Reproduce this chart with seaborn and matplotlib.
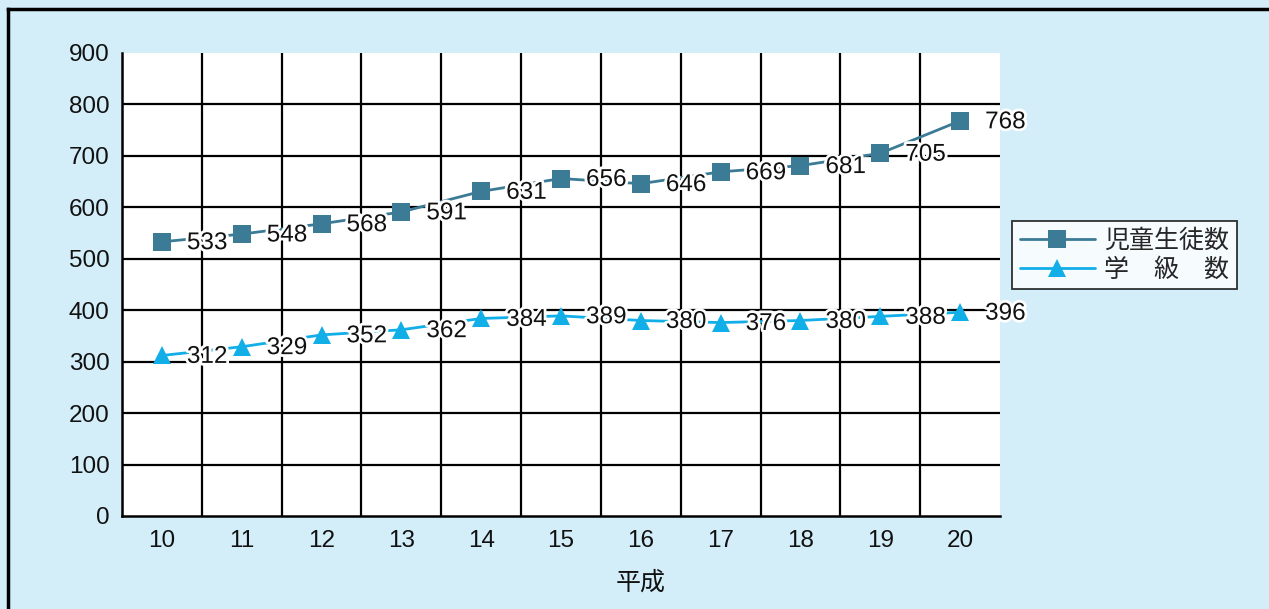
import matplotlib
matplotlib.use("Agg")
import matplotlib.pyplot as plt
import matplotlib.patheffects as pe
from matplotlib.lines import Line2D
import seaborn as sns
import pandas as pd

# Heisei years 10-20
years = ["10", "11", "12", "13", "14", "15", "16", "17", "18", "19", "20"]
students = [533, 548, 568, 591, 631, 656, 646, 669, 681, 705, 768]
classes = [312, 329, 352, 362, 384, 389, 380, 376, 380, 388, 396]
series_names = ["児童生徒数", "学　級　数"]
y_ticks = [0, 100, 200, 300, 400, 500, 600, 700, 800, 900]
x_label = "平成"

sns.set_theme(style="white")
plt.rcParams["font.family"] = ["Liberation Sans", "Noto Sans CJK JP", "DejaVu Sans"]

BG = "#D3EEF9"
C_STUD = "#3B7B95"
C_CLS = "#12AEE8"

df = pd.DataFrame({
    "pos": list(range(len(years))) * 2,
    "value": students + classes,
    "series": [series_names[0]] * len(years) + [series_names[1]] * len(years),
})

fig = plt.figure(figsize=(12.69, 6.09), dpi=100, facecolor=BG)
ax = fig.add_axes([122 / 1269, 1 - 516 / 609, (1000 - 122) / 1269, (516 - 53) / 609])
ax.set_facecolor("white")

sns.lineplot(
    data=df, x="pos", y="value", hue="series", style="series",
    palette={series_names[0]: C_STUD, series_names[1]: C_CLS},
    markers={series_names[0]: "s", series_names[1]: "^"},
    dashes=False, linewidth=2.0, markersize=13, markeredgewidth=0,
    ax=ax, legend=True,
)

ax.set_xlim(-0.5, len(years) - 0.5)
ax.set_ylim(0, 900)
ax.set_yticks(y_ticks)
ax.set_xticks(range(len(years)))
ax.set_xticklabels(years)
ax.tick_params(axis="both", length=0, labelsize=17.5, colors="#111111")
ax.tick_params(axis="y", pad=9)
ax.tick_params(axis="x", pad=10)
ax.set_xlabel("")
ax.set_ylabel("")
fig.text(641 / 1269, 1 - 583 / 609, x_label, ha="center", va="center",
         fontsize=18, color="#111111")

# grid: horizontal at each 100, vertical between categories
for v in y_ticks[1:-1]:
    ax.axhline(v, color="black", lw=1.6, zorder=0.5)
for b in range(len(years) - 1):
    ax.axvline(b + 0.5, color="black", lw=1.6, zorder=0.5)

for side in ["top", "right"]:
    ax.spines[side].set_visible(False)
for side in ["left", "bottom"]:
    ax.spines[side].set_color("black")
    ax.spines[side].set_linewidth(1.8)

halo = [pe.withStroke(linewidth=4, foreground="white")]
for vals in (students, classes):
    for i, v in enumerate(vals):
        ax.annotate(str(v), (i, v), xytext=(18, -1), textcoords="offset points",
                    ha="left", va="center", fontsize=17.5, color="#111111",
                    path_effects=halo, zorder=5)

handles, labels = ax.get_legend_handles_labels()
leg = ax.legend(handles, labels, loc="upper left",
                bbox_to_anchor=(1012 / 1269, 1 - 221 / 609),
                bbox_transform=fig.transFigure, borderaxespad=0,
                fontsize=18, frameon=True, fancybox=False,
                handlelength=3.0, handletextpad=0.4, borderpad=0.3,
                labelspacing=0.2)
leg.get_frame().set_edgecolor("black")
leg.get_frame().set_linewidth(1.3)
leg.get_frame().set_facecolor("white")
for line in leg.get_lines():
    line.set_linewidth(2.0)
    line.set_markersize(13)

# outer frame: left and top edges
fx, fy = 8 / 1269, 1 - 9 / 609
fig.add_artist(Line2D([fx, fx], [0, fy], transform=fig.transFigure,
                      color="black", lw=2.5, solid_capstyle="projecting"))
fig.add_artist(Line2D([fx, 1], [fy, fy], transform=fig.transFigure,
                      color="black", lw=2.5, solid_capstyle="projecting"))

fig.savefig("out.png", dpi=100, facecolor=BG)
